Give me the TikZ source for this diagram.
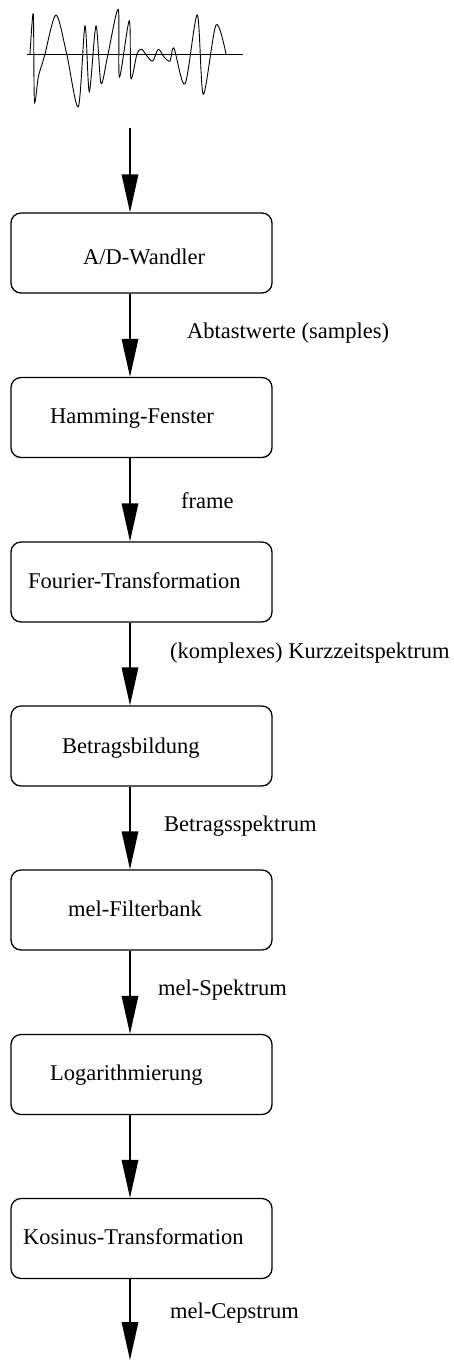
\documentclass[tikz,border=0pt]{standalone}
\usepackage{fontspec}
\setmainfont{Liberation Serif}
\usetikzlibrary{arrows.meta}
\begin{document}
\begin{tikzpicture}[x=1pt,y=-1pt,
  box/.style={draw,line width=1.3pt,rounded corners=10pt,minimum width=261pt,minimum height=80pt,inner sep=0pt},
  txt/.style={inner sep=0pt,anchor=base west,font=\fontsize{22.5}{27}\selectfont},
  lbl/.style={inner sep=0pt,anchor=base west,font=\fontsize{22.5}{27}\selectfont},
  arr/.style={line width=1.6pt,-{Triangle[length=38pt,width=16.5pt]}},
  wave/.style={line width=0.9pt}]
\useasboundingbox (0,0) rectangle (454,1361);
% signal
\draw[wave] (27.3,54) -- (243.3,54);
\draw[wave] plot[smooth,tension=0.5] coordinates {(30,54) (33.3,14) (34.4,101) (38.3,77) (43,61) (45,54) (56,15) (66.7,54) (78.3,106.7) (85,26) (89.3,91.7) (96,26) (101,83.3) (108,54) (118.3,9.3) (119.4,77) (129.3,20.7) (130.9,78.3) (137,54) (141.7,49.3) (147,56) (152.7,61) (158.3,49.3) (164,57) (170,61) (174,48.3) (185,84) (197.3,15) (203.3,94.3) (216,25) (226,54)};
% boxes
\node[box] (b1) at (141.5,253) {};
\node[box] (b2) at (141.5,417.5) {};
\node[box] (b3) at (141.5,582) {};
\node[box] (b4) at (141.5,746) {};
\node[box] (b5) at (141.5,910) {};
\node[box] (b6) at (141.5,1074.5) {};
\node[box] (b7) at (141.5,1238.5) {};
\node[txt] (t1) at (83,264) {A/D-Wandler};
\node[txt] (t2) at (50,423) {Hamming-Fenster};
\node[txt] (t3) at (28,588) {Fourier-Transformation};
\node[txt] (t4) at (62,753) {Betragsbildung};
\node[txt] (t5) at (68,916) {mel-Filterbank};
\node[txt] (t6) at (50,1080) {Logarithmierung};
\node[txt] (t7) at (23,1244) {Kosinus-Transformation};
% connectors
\coordinate (ax) at (130,0);
\coordinate (src) at (130,128);
\coordinate (dst) at (130,1360);
\draw[arr] (src) -- (b1.north -| ax);
\draw[arr] (b1.south -| ax) -- (b2.north -| ax);
\draw[arr] (b2.south -| ax) -- (b3.north -| ax);
\draw[arr] (b3.south -| ax) -- (b4.north -| ax);
\draw[arr] (b4.south -| ax) -- (b5.north -| ax);
\draw[arr] (b5.south -| ax) -- (b6.north -| ax);
\draw[arr] (b6.south -| ax) -- (b7.north -| ax);
\draw[arr] (b7.south -| ax) -- (dst);
% labels
\node[lbl] (l1) at (187,338) {Abtastwerte (samples)};
\node[lbl] (l2) at (181,508) {frame};
\node[lbl] (l3) at (170,658) {(komplexes) Kurzzeitspektrum};
\node[lbl] (l4) at (164,831) {Betragsspektrum};
\node[lbl] (l5) at (158,995) {mel-Spektrum};
\node[lbl] (l7) at (170,1318) {mel-Cepstrum};
\end{tikzpicture}
\end{document}
